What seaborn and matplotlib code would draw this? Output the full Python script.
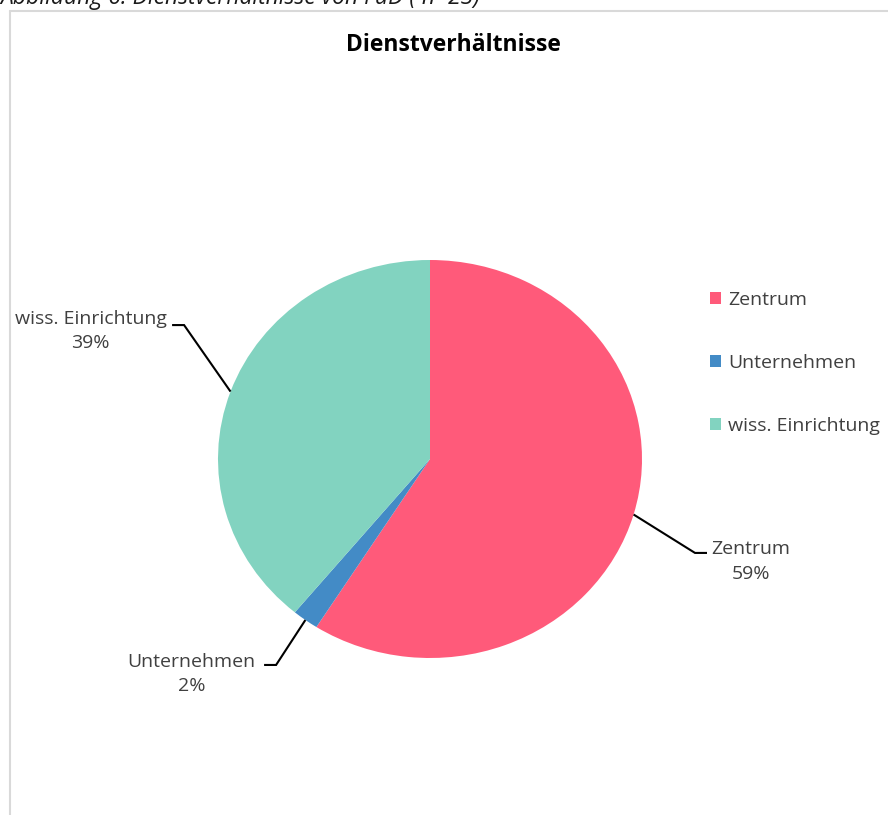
import numpy as np
import matplotlib
matplotlib.use("Agg")
import matplotlib.pyplot as plt
from matplotlib.lines import Line2D
import seaborn as sns

# Daten
categories = ["Zentrum", "Unternehmen", "wiss. Einrichtung"]
shares = [59, 2, 39]
colors = ["#FF5A7A", "#438BC6", "#82D3C0"]
title = "Dienstverhältnisse"
caption = "Abbildung 6: Dienstverhältnisse von FuD ( n=23)"

sns.set_theme(style="white")
plt.rcParams["font.family"] = ["Open Sans", "DejaVu Sans"]

W, H = 888, 815
fig = plt.figure(figsize=(W / 100, H / 100), dpi=100)

# Rahmen (nur oben und links sichtbar)
fx, fy = 10 / W, 1 - 11 / H
fig.add_artist(Line2D([fx, 1.01], [fy, fy], color="#d9d9d9", lw=1.5, transform=fig.transFigure))
fig.add_artist(Line2D([fx, fx], [fy, -0.01], color="#d9d9d9", lw=1.5, transform=fig.transFigure))

# Abgeschnittene Bildunterschrift oben (wie im Original)
fig.text(0.0, 1 - 4 / H, caption, fontsize=16.5, style="italic", color="#1a1a1a",
         ha="left", va="baseline")

# Achse ueber die ganze Abbildung, 1 Einheit = Radius
cx, cy, rx, ry = 430, 459, 212, 199
ax = fig.add_axes([0, 0, 1, 1])
wedges, _ = ax.pie(shares, colors=colors, startangle=90, counterclock=False,
                   radius=1, center=(0, 0), wedgeprops=dict(linewidth=0))
ax.set_aspect("auto")
ax.set_xlim(-cx / rx, (W - cx) / rx)
ax.set_ylim(-(H - cy) / ry, cy / ry)
ax.axis("off")

fig.text(453 / W, 1 - 45 / H, title, fontsize=16.5, fontweight="bold",
         ha="center", va="center", color="#000000")

# Beschriftungen mit Fuehrungslinien
elbows = [(1.250, -0.472), (-0.726, -1.035), (-1.160, 0.673)]
text_pos = [(1.514, -0.515), (-1.125, -1.081), (-1.600, 0.643)]
seg = 12 / rx
for w, lab, val, (ex, ey), (tx, ty) in zip(wedges, categories, shares, elbows, text_pos):
    mid = np.deg2rad((w.theta1 + w.theta2) / 2)
    sx, sy = np.cos(mid), np.sin(mid)
    d = seg if tx > ex else -seg
    ax.plot([sx, ex, ex + d], [sy, ey, ey], color="black", lw=1.5,
            solid_capstyle="butt", solid_joinstyle="miter")
    ax.text(tx, ty, f"{lab}\n{val}%", ha="center", va="center", fontsize=14,
            color="#404040", linespacing=1.45)

fig.legend(wedges, categories, loc="upper left",
           bbox_to_anchor=(710 / W, 1 - 291 / H), frameon=False,
           fontsize=14, handlelength=0.55, handleheight=0.55, handletextpad=0.4,
           labelspacing=2.32, borderaxespad=0, borderpad=0, labelcolor="#404040")

fig.savefig("out.png", dpi=100)
